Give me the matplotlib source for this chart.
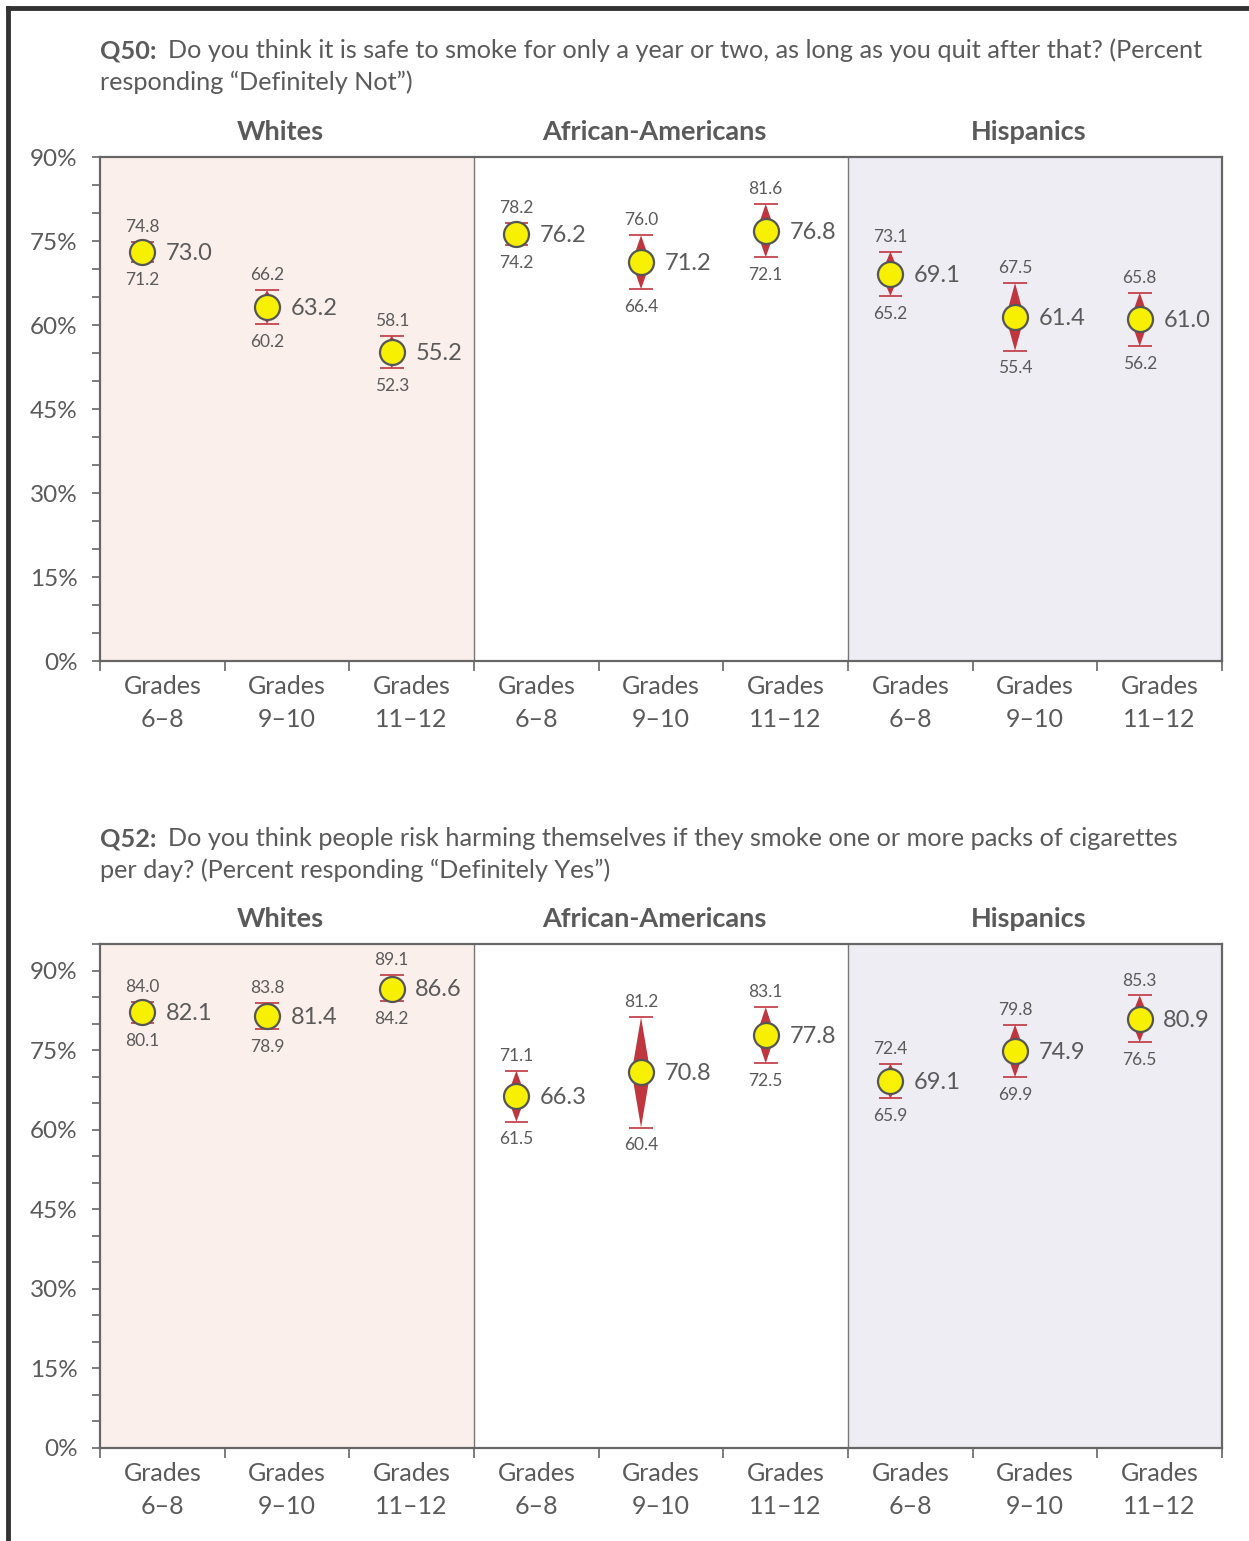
import numpy as np
import matplotlib
matplotlib.use('Agg')
import matplotlib.pyplot as plt
from matplotlib.lines import Line2D

plt.rcParams['font.family'] = ['Lato', 'DejaVu Sans']

# survey groups and grade bands
groups = ["Whites", "African-Americans", "Hispanics"]
grades = ["Grades\n6–8", "Grades\n9–10", "Grades\n11–12"]

# Q50: percent "Definitely Not" with 95% CI
q50_mean = [73.0, 63.2, 55.2, 76.2, 71.2, 76.8, 69.1, 61.4, 61.0]
q50_low = [71.2, 60.2, 52.3, 74.2, 66.4, 72.1, 65.2, 55.4, 56.2]
q50_high = [74.8, 66.2, 58.1, 78.2, 76.0, 81.6, 73.1, 67.5, 65.8]

# Q52: percent "Definitely Yes" with 95% CI
q52_mean = [82.1, 81.4, 86.6, 66.3, 70.8, 77.8, 69.1, 74.9, 80.9]
q52_low = [80.1, 78.9, 84.2, 61.5, 60.4, 72.5, 65.9, 69.9, 76.5]
q52_high = [84.0, 83.8, 89.1, 71.1, 81.2, 83.1, 72.4, 79.8, 85.3]

q50_title = ("Q50:", "Do you think it is safe to smoke for only a year or two, as long as you quit after that? (Percent",
             "responding “Definitely Not”)")
q52_title = ("Q52:", "Do you think people risk harming themselves if they smoke one or more packs of cigarettes",
             "per day? (Percent responding “Definitely Yes”)")

GRAY = "#5a5a5a"
RED = "#c0363f"
YELLOW = "#f7f000"
W, H = 1249, 1541

fig = plt.figure(figsize=(W / 100, H / 100), dpi=100)


def fx(px):
    return px / W


def fy(py):
    return 1 - py / H


def draw_panel(ax, mean, low, high, ytop):
    n = len(mean)
    x = np.arange(n) - 0.16
    ax.set_xlim(-0.5, n - 0.5)
    ax.set_ylim(0, ytop)

    ax.axvspan(-0.5, 2.5, color="#fbefec", zorder=0)
    ax.axvspan(5.5, 8.5, color="#eeedf3", zorder=0)
    for b in (2.5, 5.5):
        ax.axvline(b, color="#777777", lw=1.0, zorder=1)

    dw = 0.075
    cw = 0.095
    for xi, m, lo, hi in zip(x, mean, low, high):
        ax.fill([xi, xi + dw, xi, xi - dw], [hi, m, lo, m], color=RED, lw=0, zorder=2)
        ax.hlines([lo, hi], xi - cw, xi + cw, color=RED, lw=1.2, zorder=2)
        ax.annotate(f"{hi:.1f}", (xi, hi), xytext=(0, 5), textcoords="offset points",
                    ha="center", va="bottom", fontsize=12.5, color=GRAY)
        ax.annotate(f"{lo:.1f}", (xi, lo), xytext=(0, -7), textcoords="offset points",
                    ha="center", va="top", fontsize=12.5, color=GRAY)
        ax.annotate(f"{m:.1f}", (xi, m), xytext=(17, -1), textcoords="offset points",
                    ha="left", va="center", fontsize=17, color=GRAY)
    ax.plot(x, mean, "o", ms=18, mfc=YELLOW, mec="#555555", mew=1.6, zorder=3)

    ax.set_yticks(np.arange(0, 91, 15))
    ax.set_yticklabels([f"{v}%" for v in range(0, 91, 15)])
    ax.set_yticks(np.arange(0, ytop + 0.1, 5), minor=True)
    ax.set_xticks(np.arange(n + 1) - 0.5)
    ax.set_xticklabels([])
    ax.set_xticks(np.arange(n), minor=True)
    ax.set_xticklabels(grades * 3, minor=True, linespacing=1.55)
    ax.tick_params(axis="x", which="minor", length=0, pad=10, labelsize=18, labelcolor=GRAY)
    ax.tick_params(axis="x", which="major", length=7, width=1.2, color="#666666")
    ax.tick_params(axis="y", which="both", length=6, width=1.2, color="#666666",
                   labelsize=17.5, labelcolor=GRAY, pad=10)
    for sp in ax.spines.values():
        sp.set_color("#666666")
        sp.set_linewidth(1.6)

    for i, g in enumerate(groups):
        ax.text(3 * i + 1 - 0.05, 1.05, g, transform=ax.get_xaxis_transform(),
                ha="center", va="center", fontsize=19.5, fontweight="bold", color=GRAY)


def draw_title(parts, y1, y2):
    bold, line1, line2 = parts
    renderer = fig.canvas.get_renderer()
    tb = fig.text(fx(100), fy(y1), bold, fontsize=18.2, fontweight="bold", color=GRAY, va="baseline")
    wpx = tb.get_window_extent(renderer).width
    fig.text(fx(100 + wpx + 11), fy(y1), line1, fontsize=18.2, color=GRAY, va="baseline")
    fig.text(fx(100), fy(y2), line2, fontsize=18.2, color=GRAY, va="baseline")


ax1 = fig.add_axes([fx(100), fy(661), fx(1122), (661 - 157) / H])
ax2 = fig.add_axes([fx(100), fy(1448), fx(1122), (1448 - 944) / H])
draw_panel(ax1, q50_mean, q50_low, q50_high, 90)
draw_panel(ax2, q52_mean, q52_low, q52_high, 95)

draw_title(q50_title, 58, 90)
draw_title(q52_title, 846, 878)

# page frame on the top and left edges
fig.add_artist(Line2D([fx(8), fx(8)], [fy(8), 0], color="#333333", lw=3.5))
fig.add_artist(Line2D([fx(8), 1], [fy(8), fy(8)], color="#333333", lw=3.5))

fig.savefig("out.png", dpi=100)
